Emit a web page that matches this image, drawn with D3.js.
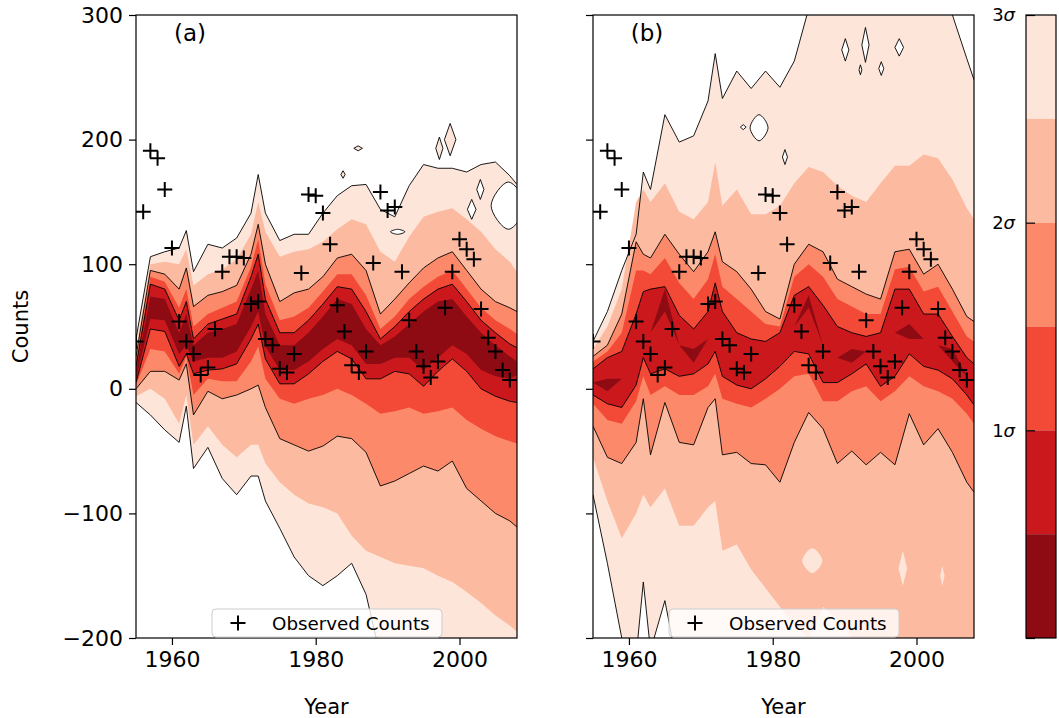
<!DOCTYPE html>
<html>
<head>
<meta charset="utf-8">
<script src="https://cdn.jsdelivr.net/npm/d3@7"></script>
<style>
  body { margin: 0; background: #fff; }
  text { font-family: "DejaVu Sans", sans-serif; fill: #000; }
</style>
</head>
<body>
<svg id="fig" width="1059" height="718"></svg>
<script>
// observed counts, one per year 1955..2007
var obsYears = d3.range(1955, 2008);
var obsCounts = [38,142,191,185,160,113,54,38,28,11,17,48,94,106,106,105,68,70,40,35,16,13,28,93,156,155,141,116,67,46,19,13,30,101,158,143,146,94,55,30,18,9,22,65,94,120,112,104,64,41,30,15,7];

var bandYears = [1955,1957,1959,1961,1962,1963,1965,1967,1969,1971,1972,1973,1975,1977,1979,1981,1983,1985,1987,1989,1991,1993,1995,1997,1999,2001,2003,2005,2007,2008];

// panel (a) edges, upper and lower, per sigma level
var aUp3  = [40,106,110,113,127,94,116,113,121,141,172,141,119,124,124,141,155,163,164,144,138,163,180,177,177,174,180,182,171,164];
var aUp25 = [32,100,102,100,112,83,92,96,104,124,150,126,106,110,112,118,128,136,132,110,102,122,138,142,145,136,126,112,102,94];
var aUp2  = [26,95,92,80,97,66,75,78,83,108,132,100,70,77,80,90,105,108,95,60,72,85,97,105,110,95,80,70,65,62];
var aUp15 = [22,90,86,65,80,50,60,65,70,98,120,84,55,58,65,78,92,92,75,48,58,72,82,90,95,80,65,55,48,44];
var aUp1  = [18,84,80,55,70,40,52,56,60,90,108,72,45,45,55,68,82,80,62,40,50,62,72,80,84,70,55,45,36,33];
var aUp05 = [14,74,72,45,60,35,45,48,52,80,95,60,35,35,45,58,72,68,48,35,42,52,62,70,72,58,45,35,26,22];
var aLo05 = [8,56,55,28,35,22,25,25,30,50,62,34,15,15,22,32,40,35,20,20,25,25,15,25,35,28,15,10,8,11];
var aLo1  = [5,48,46,18,28,12,15,16,20,40,52,24,4,4,12,22,30,24,8,8,14,12,2,14,24,14,0,-6,-10,-11];
var aLo15 = [3,32,30,12,26,-5,8,6,6,22,34,8,-8,-12,-8,-5,0,-5,-12,-20,-18,-15,-20,-18,-15,-25,-32,-38,-42,-44];
var aLo2  = [0,14,14,7,20,-21,-2,-8,-5,0,3,-15,-40,-45,-50,-46,-38,-40,-51,-78,-74,-68,-62,-66,-58,-80,-90,-100,-106,-111];
var aLo25 = [-6,0,-8,-28,-5,-45,-30,-45,-55,-45,-45,-60,-75,-85,-92,-95,-100,-118,-130,-135,-140,-142,-144,-150,-155,-163,-172,-182,-190,-195];
var aLo3  = [-11,-21,-33,-43,-14,-64,-47,-72,-85,-70,-70,-90,-112,-135,-150,-158,-150,-140,-165,-215,-240,-260,-280,-290,-300,-310,-320,-330,-340,-340];

// panel (b)
var bUp3  = [38,62,95,124,174,160,220,198,203,231,269,233,255,241,255,242,263,305,330,330,330,330,330,330,330,330,330,300,265,248];
var bUp25 = [32,50,80,150,160,150,165,142,136,150,182,147,160,140,140,147,165,178,174,163,155,150,165,179,179,188,185,168,145,136];
var bUp2  = [26,35,60,118,108,105,124,108,94,110,126,102,94,80,62,56,100,116,110,88,82,76,72,110,112,92,100,80,58,54];
var bUp15 = [22,30,45,95,95,92,105,85,72,88,108,82,72,62,52,50,90,100,90,72,66,60,60,96,98,78,82,62,42,38];
var bUp1  = [16,25,30,60,78,80,82,59,48,62,85,62,45,40,38,45,75,82,67,50,45,42,45,80,80,60,60,42,25,20];
var bUp05 = [5,8,8,35,60,45,80,35,32,40,55,35,25,20,22,30,50,75,35,25,32,30,25,45,52,40,35,32,10,5];
var bLo05 = [5,-2,8,35,60,45,62,35,21,40,55,35,25,20,22,30,50,65,35,25,21,30,25,45,40,40,35,22,10,5];
var bLo1  = [-5,-12,-15,3,25,12,16,10,12,20,30,10,3,0,8,18,30,28,5,5,12,20,2,10,28,18,15,8,-5,-13];
var bLo15 = [-12,-25,-28,-10,10,-5,2,-5,-5,2,12,-8,-12,-15,-8,0,10,12,-10,-10,-2,2,-10,-2,10,2,-2,-8,-20,-28];
var bLo2  = [-30,-55,-60,-43,-8,-53,-11,-43,-45,-15,-8,-53,-51,-60,-61,-75,-43,-19,-32,-60,-50,-61,-51,-61,-20,-45,-32,-51,-75,-83];
var bLo25 = [-55,-90,-120,-100,-85,-95,-80,-110,-110,-95,-90,-130,-125,-145,-160,-175,-190,-200,-175,-185,-200,-205,-200,-205,-200,-205,-200,-205,-210,-210];
var bLo3  = [-85,-140,-200,-215,-155,-210,-170,-230,-250,-250,-250,-250,-250,-250,-250,-250,-250,-250,-250,-250,-250,-250,-250,-250,-250,-250,-250,-250,-250,-250];

// small closed contours: centre year, centre count, half width (years), half height (counts)
var aHoleYear  = [2006.8, 2002.9, 2001.7, 1991.4];
var aHoleCount = [147, 160, 144, 126];
var aHoleDx    = [2.4, 0.5, 0.6, 1.0];
var aHoleDy    = [19, 8, 8, 2];
var aSpotYear  = [1997.2, 1998.7, 1985.9, 1983.8];
var aSpotCount = [193, 200, 193, 172];
var aSpotDx    = [0.5, 0.8, 0.6, 0.3];
var aSpotDy    = [9, 13, 2, 3];

var bHoleYear  = [1978.1, 1975.9, 1981.7, 1990.1, 1992.9, 1997.6, 1992.2, 1995.1];
var bHoleCount = [209.5, 210, 186, 272, 276, 274, 256, 257];
var bHoleDx    = [1.25, 0.4, 0.35, 0.5, 0.5, 0.6, 0.2, 0.35];
var bHoleDy    = [10.5, 2, 6, 9, 14, 7, 4, 5.5];
var bSpotYear  = [1985.5, 1998.1, 1977.4, 2003.6];
var bSpotCount = [-138, -144, -158, -150];
var bSpotDx    = [1.4, 0.6, 0.5, 0.3];
var bSpotDy    = [10, 14, 6, 8];

var bandColors = ["#fee5d9", "#fcbba1", "#fc8a6a", "#f24a36", "#cb181d", "#8e0b13"];
var cbarTicks = [0, 1, 2, 3];
var cbarLabels = ["", "1", "2", "3"];

var panels = [
  { name: "(a)", x0: 136, up: [aUp3,aUp25,aUp2,aUp15,aUp1,aUp05], lo: [aLo3,aLo25,aLo2,aLo15,aLo1,aLo05], yLabels: true,
    holes: [aHoleYear, aHoleCount, aHoleDx, aHoleDy], spots: [aSpotYear, aSpotCount, aSpotDx, aSpotDy], spotLine: true },
  { name: "(b)", x0: 593, up: [bUp3,bUp25,bUp2,bUp15,bUp1,bUp05], lo: [bLo3,bLo25,bLo2,bLo15,bLo1,bLo05], yLabels: false,
    holes: [bHoleYear, bHoleCount, bHoleDx, bHoleDy], spots: [bSpotYear, bSpotCount, bSpotDx, bSpotDy], spotLine: false }
];

var W = 381, mTop = 15, H = 623;
var svg = d3.select("#fig");

var x = d3.scaleLinear().domain([1955, 2008]).range([0, W]);
var y = d3.scaleLinear().domain([-200, 300]).range([H, 0]);

// outline of a little closed contour, round when wide, diamond when narrow
function blobPath(yr, c, dx, dy) {
  var pts = [[yr, c + dy], [yr + dx, c], [yr, c - dy], [yr - dx, c]];
  var line = d3.line()
    .x(function (d) { return x(d[0]); })
    .y(function (d) { return y(d[1]); })
    .curve(dx >= 1 ? d3.curveCatmullRomClosed.alpha(0.5) : d3.curveLinearClosed);
  return line(pts);
}

panels.forEach(function (p, pi) {
  var g = svg.append("g").attr("transform", "translate(" + p.x0 + "," + mTop + ")");

  g.append("clipPath").attr("id", "clip" + pi)
    .append("rect").attr("width", W).attr("height", H);

  var plot = g.append("g").attr("clip-path", "url(#clip" + pi + ")");

  // filled bands, outer to inner
  p.up.forEach(function (upArr, k) {
    var loArr = p.lo[k];
    var area = d3.area()
      .x(function (d, i) { return x(bandYears[i]); })
      .y0(function (d, i) { return y(loArr[i]); })
      .y1(function (d, i) { return y(upArr[i]); });
    plot.append("path")
      .datum(upArr)
      .attr("d", area)
      .attr("fill", bandColors[k]);
  });

  // contour lines at 1, 2 and 3 sigma
  [0, 2, 4].forEach(function (k) {
    [p.up[k], p.lo[k]].forEach(function (arr) {
      var line = d3.line()
        .x(function (d, i) { return x(bandYears[i]); })
        .y(function (d) { return y(d); });
      plot.append("path")
        .datum(arr)
        .attr("d", line)
        .attr("fill", "none")
        .attr("stroke", "#000")
        .attr("stroke-width", 0.9);
    });
  });

  // isolated pieces of the outer contour
  p.holes[0].forEach(function (yr, i) {
    plot.append("path")
      .attr("d", blobPath(yr, p.holes[1][i], p.holes[2][i], p.holes[3][i]))
      .attr("fill", "#fff").attr("stroke", "#000").attr("stroke-width", 0.9);
  });
  p.spots[0].forEach(function (yr, i) {
    plot.append("path")
      .attr("d", blobPath(yr, p.spots[1][i], p.spots[2][i], p.spots[3][i]))
      .attr("fill", bandColors[0])
      .attr("stroke", p.spotLine ? "#000" : "none").attr("stroke-width", 0.9);
  });

  // observed counts
  plot.selectAll("path.obs")
    .data(obsCounts)
    .enter()
    .append("path")
    .attr("class", "obs")
    .attr("d", "M-7.5,0H7.5M0,-7.5V7.5")
    .attr("transform", function (d, i) { return "translate(" + x(obsYears[i]) + "," + y(d) + ")"; })
    .attr("stroke", "#000")
    .attr("stroke-width", 2);

  // frame
  g.append("rect").attr("width", W).attr("height", H)
    .attr("fill", "none").attr("stroke", "#000").attr("stroke-width", 1.2);

  // axes
  var xAxis = d3.axisBottom(x).tickValues([1960, 1980, 2000]).tickFormat(d3.format("d"))
    .tickSize(7).tickPadding(6);
  var gx = g.append("g").attr("transform", "translate(0," + H + ")").call(xAxis);
  gx.select(".domain").remove();
  gx.selectAll("text").attr("font-size", 22).attr("font-family", "DejaVu Sans");

  var yAxis = d3.axisLeft(y).tickValues([-200, -100, 0, 100, 200, 300])
    .tickFormat(function (d) { return p.yLabels ? (d < 0 ? "\u2212" + Math.abs(d) : d) : ""; })
    .tickSize(7).tickPadding(6);
  var gy = g.append("g").call(yAxis);
  gy.select(".domain").remove();
  gy.selectAll("text").attr("font-size", 22).attr("font-family", "DejaVu Sans");
  g.selectAll(".tick line").attr("stroke-width", 1.2);

  g.append("text").attr("x", W / 2).attr("y", H + 76)
    .attr("text-anchor", "middle").attr("font-size", 21).text("Year");

  g.append("text").attr("x", 54).attr("y", 26)
    .attr("text-anchor", "middle").attr("font-size", 23).text(p.name);

  // legend
  var lg = g.append("g").attr("transform", "translate(" + (76) + "," + (H - 29) + ")");
  lg.append("rect").attr("width", 230).attr("height", 28).attr("rx", 4)
    .attr("fill", "#fff").attr("fill-opacity", 0.8)
    .attr("stroke", "#ccc").attr("stroke-width", 1);
  lg.append("path").attr("d", "M-7.5,0H7.5M0,-7.5V7.5")
    .attr("transform", "translate(26,14)")
    .attr("stroke", "#000").attr("stroke-width", 2);
  lg.append("text").attr("x", 60).attr("y", 20.5).attr("font-size", 18.3).text("Observed Counts");
});

svg.append("text")
  .attr("transform", "translate(28," + (mTop + H / 2) + ") rotate(-90)")
  .attr("text-anchor", "middle").attr("font-size", 21).text("Counts");

// colorbar
var cb = svg.append("g").attr("transform", "translate(1026," + mTop + ")");
var cbY = d3.scaleLinear().domain([0, 3]).range([H, 0]);
var cbSteps = d3.range(6);
cb.selectAll("rect.band")
  .data(cbSteps)
  .enter()
  .append("rect")
  .attr("class", "band")
  .attr("x", 0)
  .attr("width", 30)
  .attr("y", function (d) { return cbY(3 - d * 0.5); })
  .attr("height", function (d) { return cbY(0) - cbY(0.5); })
  .attr("fill", function (d) { return bandColors[d]; });
cb.append("rect").attr("width", 30).attr("height", H)
  .attr("fill", "none").attr("stroke", "#000").attr("stroke-width", 1.2);
// ticks point into the bar, labels sit to its left
var cbAxis = d3.axisLeft(cbY).tickValues(cbarTicks)
  .tickFormat(function () { return ""; }).tickSize(-9);
var gcb = cb.append("g").call(cbAxis);
gcb.select(".domain").remove();
gcb.selectAll(".tick line").attr("stroke-width", 1.2);
gcb.selectAll(".tick").each(function (d, i) {
  if (!cbarLabels[i]) return;
  var t = d3.select(this).select("text")
    .attr("x", -11).attr("font-size", 18).attr("text-anchor", "end");
  t.text(cbarLabels[i]);
  t.append("tspan").attr("font-style", "italic").text("σ");
});
</script>
</body>
</html>
